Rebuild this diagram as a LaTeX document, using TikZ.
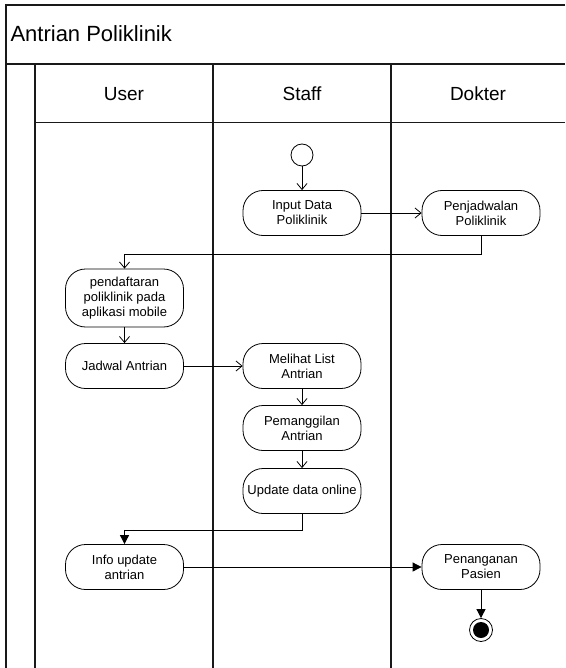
\documentclass[tikz,border=0pt]{standalone}
\usepackage{fontspec}
\setmainfont{Liberation Sans}
\usetikzlibrary{arrows.meta}
\begin{document}
\begin{tikzpicture}[x=1pt,y=-1pt,
  lane/.style={line width=1.3pt,draw=black!90},
  act/.style={draw,line width=0.8pt,rounded corners=20pt,minimum width=118pt,
    minimum height=45pt,align=center,inner sep=2pt,
    font=\fontsize{13}{15}\selectfont},
  openflow/.style={draw,line width=0.8pt,-{Straight Barb[length=6pt,width=10pt]}},
  fillflow/.style={draw,line width=0.8pt,-{Triangle[length=9pt,width=9pt]}},
  hdr/.style={font=\fontsize{19}{22}\selectfont}]
\useasboundingbox (0,0) rectangle (565,668);
\fill[white] (0,0) rectangle (565,668);

% pool frame and lanes
\draw[lane] (565,5) -- (6,5) -- (6,668);
\draw[lane,line width=1.8pt] (6,64) -- (565,64);
\draw[lane,line width=1pt] (35,123) -- (565,123);
\draw[lane] (35,64) -- (35,668);
\draw[lane] (213,64) -- (213,668);
\draw[lane] (391,64) -- (391,668);

\node[anchor=west,font=\fontsize{22}{26}\selectfont] (title) at (7,34) {Antrian Poliklinik};
\node[hdr] (huser) at (124,94) {User};
\node[hdr] (hstaff) at (302,94) {Staff};
\node[hdr] (hdok) at (478,94) {Dokter};

% activities
\node[draw,circle,line width=0.8pt,minimum size=22pt,inner sep=0pt] (start) at (302,155) {};
\node[act] (input) at (302,213) {Input Data\\Poliklinik};
\node[act] (jadwalpoli) at (481,213) {Penjadwalan\\Poliklinik};
\node[act,minimum height=58pt] (daftar) at (124.5,298) {pendaftaran\\poliklinik pada\\aplikasi mobile};
\node[act] (jadwal) at (124.5,366) {Jadwal Antrian};
\node[act] (melihat) at (302,366) {Melihat List\\Antrian};
\node[act] (panggil) at (302,428) {Pemanggilan\\Antrian};
\node[act] (update) at (302,491) {Update data online};
\node[act] (info) at (124.5,567) {Info update\\antrian};
\node[act] (tangani) at (481,567) {Penanganan\\Pasien};
\node[draw,circle,line width=0.8pt,minimum size=23pt,inner sep=0pt] (finish) at (481,630) {};
\node[fill=black,circle,minimum size=16pt,inner sep=0pt] (finishdot) at (finish) {};

% flows
\coordinate (r1) at (0,254);
\coordinate (r2) at (0,530);
\draw[openflow] (start) -- (input);
\draw[openflow] (input) -- (jadwalpoli);
\draw[openflow] (jadwalpoli.south) -- (jadwalpoli.south |- r1) -| (daftar.north);
\draw[openflow] (daftar) -- (jadwal);
\draw[openflow] (jadwal) -- (melihat);
\draw[openflow] (melihat) -- (panggil);
\draw[openflow] (panggil) -- (update);
\draw[fillflow] (update.south) -- (update.south |- r2) -| (info.north);
\draw[fillflow] (info) -- (tangani);
\draw[fillflow] (tangani) -- (finish);
\end{tikzpicture}
\end{document}
